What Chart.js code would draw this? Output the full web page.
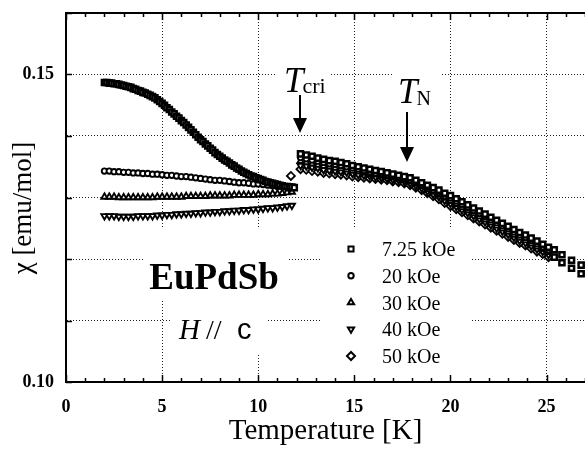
<!DOCTYPE html>
<html>
<head>
<meta charset="utf-8">
<script src="https://cdn.jsdelivr.net/npm/chart.js@4/dist/chart.umd.min.js"></script>
<style>
  html, body { margin: 0; padding: 0; background: #fff; }
  canvas { display: block; }
</style>
</head>
<body>
<canvas id="chi_plot" width="585" height="453"></canvas>
<script>
// Temperatures [K]
const tempLowFine = [2.000, 2.125, 2.250, 2.375, 2.500, 2.625, 2.750, 2.875, 3.000, 3.125,
  3.250, 3.375, 3.500, 3.625, 3.750, 3.875, 4.000, 4.125, 4.250, 4.375,
  4.500, 4.625, 4.750, 4.875, 5.000, 5.125, 5.250, 5.375, 5.500, 5.625,
  5.750, 5.875, 6.000, 6.125, 6.250, 6.375, 6.500, 6.625, 6.750, 6.875,
  7.000, 7.125, 7.250, 7.375, 7.500, 7.625, 7.750, 7.875, 8.000, 8.125,
  8.250, 8.375, 8.500, 8.625, 8.750, 8.875, 9.000, 9.125, 9.250, 9.375,
  9.500, 9.625, 9.750, 9.875, 10.000, 10.125, 10.250, 10.375, 10.500, 10.625,
  10.750, 10.875, 11.000, 11.125, 11.250, 11.375, 11.500, 11.625, 11.750, 11.875];
const tempLow = [2.00, 2.25, 2.50, 2.75, 3.00, 3.25, 3.50, 3.75, 4.00, 4.25,
  4.50, 4.75, 5.00, 5.25, 5.50, 5.75, 6.00, 6.25, 6.50, 6.75,
  7.00, 7.25, 7.50, 7.75, 8.00, 8.25, 8.50, 8.75, 9.00, 9.25,
  9.50, 9.75, 10.00, 10.25, 10.50, 10.75, 11.00, 11.25, 11.50, 11.75];
const tempHigh = [12.2, 12.5, 12.8, 13.1, 13.4, 13.7, 14.0, 14.3, 14.6, 14.9,
  15.2, 15.5, 15.8, 16.1, 16.4, 16.7, 17.0, 17.3, 17.6, 17.9,
  18.2, 18.5, 18.8, 19.1, 19.4, 19.7, 20.0, 20.3, 20.6, 20.9,
  21.2, 21.5, 21.8, 22.1, 22.4, 22.7, 23.0, 23.3, 23.6, 23.9,
  24.2, 24.5, 24.8, 25.1];
const tempTail = [25.4, 25.4, 25.8, 25.8, 26.3, 26.3, 26.8, 26.8];
const tempLone = [11.7];

// chi [emu/mol], 7.25 kOe
const chi725Low = [0.1487, 0.1487, 0.1486, 0.1486, 0.1485, 0.1485, 0.1484, 0.1483, 0.1482, 0.1481,
  0.1480, 0.1479, 0.1477, 0.1476, 0.1474, 0.1473, 0.1471, 0.1470, 0.1468, 0.1466,
  0.1464, 0.1462, 0.1459, 0.1456, 0.1453, 0.1450, 0.1446, 0.1443, 0.1439, 0.1436,
  0.1432, 0.1429, 0.1425, 0.1422, 0.1418, 0.1414, 0.1410, 0.1406, 0.1402, 0.1398,
  0.1394, 0.1391, 0.1387, 0.1384, 0.1380, 0.1377, 0.1373, 0.1370, 0.1367, 0.1364,
  0.1361, 0.1359, 0.1356, 0.1353, 0.1351, 0.1348, 0.1346, 0.1343, 0.1341, 0.1339,
  0.1337, 0.1335, 0.1334, 0.1332, 0.1331, 0.1329, 0.1328, 0.1326, 0.1325, 0.1324,
  0.1323, 0.1322, 0.1321, 0.1320, 0.1319, 0.1318, 0.1318, 0.1317, 0.1317, 0.1316];
const chi725High = [0.1371, 0.1369, 0.1367, 0.1364, 0.1362, 0.1360, 0.1359, 0.1357, 0.1355, 0.1352,
  0.1350, 0.1348, 0.1346, 0.1344, 0.1342, 0.1340, 0.1338, 0.1336, 0.1334, 0.1332,
  0.1328, 0.1324, 0.1320, 0.1316, 0.1312, 0.1307, 0.1303, 0.1298, 0.1293, 0.1288,
  0.1283, 0.1278, 0.1273, 0.1268, 0.1263, 0.1258, 0.1253, 0.1248, 0.1243, 0.1239,
  0.1234, 0.1229, 0.1224, 0.1219];
const chi725Tail = [0.1215, 0.1203, 0.1207, 0.1194, 0.1198, 0.1185, 0.1190, 0.1176];

// 20 kOe
const chi20Low = [0.1343, 0.1343, 0.1342, 0.1342, 0.1341, 0.1341, 0.1340, 0.1340, 0.1339, 0.1339,
  0.1338, 0.1338, 0.1337, 0.1336, 0.1336, 0.1335, 0.1334, 0.1334, 0.1333, 0.1332,
  0.1331, 0.1330, 0.1329, 0.1328, 0.1328, 0.1327, 0.1326, 0.1325, 0.1324, 0.1324,
  0.1323, 0.1322, 0.1322, 0.1321, 0.1320, 0.1319, 0.1318, 0.1318, 0.1317, 0.1316];
const chi20High = [0.1365, 0.1363, 0.1361, 0.1359, 0.1357, 0.1355, 0.1354, 0.1352, 0.1350, 0.1348,
  0.1346, 0.1344, 0.1342, 0.1340, 0.1339, 0.1337, 0.1335, 0.1333, 0.1331, 0.1329,
  0.1325, 0.1321, 0.1317, 0.1312, 0.1308, 0.1303, 0.1299, 0.1294, 0.1289, 0.1284,
  0.1279, 0.1274, 0.1269, 0.1264, 0.1259, 0.1254, 0.1249, 0.1244, 0.1239, 0.1235,
  0.1230, 0.1225, 0.1220, 0.1215];

// 30 kOe
const chi30Low = [0.1301, 0.1301, 0.1301, 0.1300, 0.1300, 0.1300, 0.1300, 0.1300, 0.1300, 0.1300,
  0.1300, 0.1301, 0.1301, 0.1301, 0.1301, 0.1301, 0.1301, 0.1302, 0.1302, 0.1302,
  0.1302, 0.1302, 0.1303, 0.1303, 0.1303, 0.1303, 0.1303, 0.1304, 0.1304, 0.1304,
  0.1304, 0.1304, 0.1305, 0.1305, 0.1305, 0.1306, 0.1306, 0.1307, 0.1308, 0.1309];
const chi30High = [0.1359, 0.1357, 0.1355, 0.1353, 0.1351, 0.1350, 0.1348, 0.1347, 0.1345, 0.1343,
  0.1342, 0.1340, 0.1338, 0.1337, 0.1335, 0.1334, 0.1332, 0.1330, 0.1328, 0.1326,
  0.1322, 0.1318, 0.1313, 0.1309, 0.1304, 0.1299, 0.1294, 0.1289, 0.1284, 0.1279,
  0.1274, 0.1269, 0.1264, 0.1259, 0.1254, 0.1249, 0.1244, 0.1239, 0.1234, 0.1230,
  0.1225, 0.1220, 0.1216, 0.1211];

// 40 kOe
const chi40Low = [0.1270, 0.1270, 0.1270, 0.1269, 0.1269, 0.1269, 0.1269, 0.1270, 0.1270, 0.1270,
  0.1270, 0.1271, 0.1271, 0.1272, 0.1272, 0.1273, 0.1273, 0.1274, 0.1274, 0.1275,
  0.1275, 0.1276, 0.1276, 0.1277, 0.1277, 0.1278, 0.1278, 0.1279, 0.1279, 0.1280,
  0.1280, 0.1281, 0.1281, 0.1282, 0.1283, 0.1283, 0.1284, 0.1285, 0.1286, 0.1287];
const chi40High = [0.1352, 0.1351, 0.1349, 0.1348, 0.1345, 0.1344, 0.1343, 0.1342, 0.1341, 0.1339,
  0.1337, 0.1336, 0.1335, 0.1333, 0.1332, 0.1331, 0.1329, 0.1328, 0.1326, 0.1323,
  0.1319, 0.1315, 0.1310, 0.1305, 0.1301, 0.1295, 0.1290, 0.1285, 0.1280, 0.1275,
  0.1270, 0.1265, 0.1260, 0.1255, 0.1250, 0.1245, 0.1240, 0.1235, 0.1230, 0.1226,
  0.1221, 0.1216, 0.1212, 0.1207];

// 50 kOe
const chi50Lone = [0.1335];
const chi50High = [0.1346, 0.1345, 0.1343, 0.1342, 0.1340, 0.1339, 0.1338, 0.1337, 0.1336, 0.1334,
  0.1333, 0.1332, 0.1331, 0.1330, 0.1329, 0.1328, 0.1326, 0.1325, 0.1323, 0.1320,
  0.1316, 0.1312, 0.1307, 0.1302, 0.1297, 0.1291, 0.1286, 0.1281, 0.1276, 0.1271,
  0.1266, 0.1261, 0.1256, 0.1251, 0.1246, 0.1241, 0.1236, 0.1231, 0.1226, 0.1222,
  0.1217, 0.1212, 0.1208, 0.1203];

const fieldLabels = ['7.25 kOe', '20 kOe', '30 kOe', '40 kOe', '50 kOe'];
const xTickValues = [0, 5, 10, 15, 20, 25];
const yTickLabels = ['0.10', '0.15'];
const transitionTemps = [12.17, 17.74];   // T_cri, T_N arrows

const SERIF = '"Liberation Serif", "Times New Roman", serif';
Chart.defaults.font.family = SERIF;
Chart.defaults.color = '#000';

function pts(xs, ys) {
  return xs.map((x, i) => ({ x: x, y: ys[i] }));
}

const markerStyles = [
  { pointStyle: 'rect', rotation: 0, radius: 3.6, border: 2.5 },
  { pointStyle: 'circle', rotation: 0, radius: 2.7, border: 1.9 },
  { pointStyle: 'triangle', rotation: 0, radius: 3.6, border: 1.9 },
  { pointStyle: 'triangle', rotation: 180, radius: 3.6, border: 1.9 },
  { pointStyle: 'rectRot', rotation: 0, radius: 4.0, border: 1.8 }
];

const seriesData = [
  [...pts(tempLowFine, chi725Low), ...pts(tempHigh, chi725High), ...pts(tempTail, chi725Tail)],
  [...pts(tempLow, chi20Low), ...pts(tempHigh, chi20High)],
  [...pts(tempLow, chi30Low), ...pts(tempHigh, chi30High)],
  [...pts(tempLow, chi40Low), ...pts(tempHigh, chi40High)],
  [...pts(tempLone, chi50Lone), ...pts(tempHigh, chi50High)]
];

const datasets = seriesData.map((data, i) => ({
  label: fieldLabels[i],
  data: data,
  pointStyle: markerStyles[i].pointStyle,
  pointRotation: markerStyles[i].rotation,
  pointRadius: markerStyles[i].radius,
  pointBorderWidth: markerStyles[i].border,
  pointBorderColor: '#000',
  pointBackgroundColor: '#fff',
  showLine: false
}));

function drawArrow(ctx, x, y0, y1) {
  ctx.beginPath();
  ctx.moveTo(x, y0);
  ctx.lineTo(x, y1 - 12);
  ctx.lineWidth = 2;
  ctx.stroke();
  ctx.beginPath();
  ctx.moveTo(x - 7, y1 - 15);
  ctx.lineTo(x + 7, y1 - 15);
  ctx.lineTo(x, y1);
  ctx.closePath();
  ctx.fill();
}

// labels, arrows and the key, drawn under the data
const notesPlugin = {
  id: 'notes',
  beforeDatasetsDraw(chart) {
    const { ctx, scales: { x } } = chart;
    ctx.save();

    // paper showing through the dotted grid behind the labels
    ctx.fillStyle = '#fff';
    [[277, 55, 53, 45], [392, 70, 48, 42], [143, 228, 144, 72],
     [170, 300, 98, 53], [322, 228, 148, 153]].forEach(b => ctx.fillRect(b[0], b[1], b[2], b[3]));

    ctx.fillStyle = '#000';
    ctx.strokeStyle = '#000';
    ctx.textBaseline = 'alphabetic';
    ctx.textAlign = 'left';

    // T_cri
    ctx.font = 'italic 35px ' + SERIF;
    ctx.fillText('T', 284, 92);
    let w = ctx.measureText('T').width;
    ctx.font = '22px ' + SERIF;
    ctx.fillText('cri', 284 + w - 1, 93);
    drawArrow(ctx, Math.round(x.getPixelForValue(transitionTemps[0])), 95, 133);

    // T_N
    ctx.font = 'italic 35px ' + SERIF;
    ctx.fillText('T', 398, 103);
    w = ctx.measureText('T').width;
    ctx.font = '20px ' + SERIF;
    ctx.fillText('N', 398 + w - 1, 105);
    drawArrow(ctx, Math.round(x.getPixelForValue(transitionTemps[1])), 112, 162);

    // compound and field direction
    ctx.textAlign = 'center';
    ctx.font = 'bold 37px ' + SERIF;
    ctx.fillText('EuPdSb', 214, 289);
    ctx.textAlign = 'left';
    ctx.font = 'italic 29px ' + SERIF;
    ctx.fillText('H', 179, 339);
    ctx.font = '28px ' + SERIF;
    ctx.fillText('//', 206, 339);
    ctx.font = '29px "Liberation Sans", Arial, sans-serif';
    ctx.fillText('c', 237, 339);

    // key
    ctx.font = '20px ' + SERIF;
    fieldLabels.forEach((label, i) => {
      const base = 256 + i * 26.75;
      const m = markerStyles[i];
      ctx.fillStyle = '#fff';
      ctx.strokeStyle = '#000';
      Chart.helpers.drawPoint(ctx, {
        pointStyle: m.pointStyle, rotation: m.rotation,
        radius: m.radius, borderWidth: 1.5
      }, 351, base - 7);
      ctx.fillStyle = '#000';
      ctx.fillText(label, 382, base);
    });

    // y axis title
    ctx.save();
    ctx.translate(24, 208);
    ctx.rotate(-Math.PI / 2);
    ctx.textAlign = 'center';
    ctx.textBaseline = 'middle';
    ctx.font = '27px ' + SERIF;
    ctx.fillText('\u03c7 [emu/mol]', 0, 0);
    ctx.restore();

    ctx.restore();
  },
  // inward tick marks on the frame
  afterDraw(chart) {
    const { ctx, chartArea: a, scales: { x, y } } = chart;
    ctx.save();
    ctx.strokeStyle = '#000';
    ctx.lineWidth = 1.5;
    ctx.beginPath();
    for (let t = 0; t <= 27; t++) {
      const px = Math.round(x.getPixelForValue(t)) + 0.5;
      const len = t % 5 === 0 ? 7 : 4;
      ctx.moveTo(px, a.bottom);
      ctx.lineTo(px, a.bottom - len);
      ctx.moveTo(px, a.top);
      ctx.lineTo(px, a.top + len);
    }
    for (let k = 0; k <= 6; k++) {
      const py = Math.round(y.getPixelForValue(0.10 + k * 0.01)) + 0.5;
      ctx.moveTo(a.left, py);
      ctx.lineTo(a.left + 6, py);
    }
    ctx.stroke();
    ctx.restore();
  }
};

// fixed axis sizes, no extra room for edge labels
function fitHeight(h) {
  return (s) => { s.height = h; s.paddingLeft = 0; s.paddingRight = 0; };
}

const canvasChi = document.getElementById('chi_plot');
const ctxChi = canvasChi.getContext('2d');

new Chart(ctxChi, {
  type: 'scatter',
  data: { datasets: datasets },
  options: {
    responsive: false,
    animation: false,
    events: [],
    layout: { autoPadding: false, padding: { top: 13, left: 0, right: 0, bottom: 0 } },
    plugins: {
      legend: { display: false },
      tooltip: { enabled: false }
    },
    scales: {
      x: {
        type: 'linear',
        position: 'bottom',
        min: 0,
        max: 27,
        afterFit: fitHeight(71),
        ticks: {
          stepSize: 5,
          includeBounds: false,
          padding: 15,
          maxRotation: 0,
          font: { size: 18, weight: 'bold' },
          callback: (v) => (xTickValues.includes(v) ? String(v) : '')
        },
        grid: { color: '#222', lineWidth: 1, drawTicks: false },
        border: { color: '#000', width: 2, dash: [1, 2] },
        title: {
          display: true,
          text: 'Temperature [K]',
          font: { size: 29 },
          padding: { top: 0, bottom: 4 }
        }
      },
      xTop: {
        type: 'linear',
        position: 'top',
        min: 0,
        max: 27,
        afterFit: fitHeight(0),
        ticks: { display: false },
        grid: { display: false, drawTicks: false },
        border: { color: '#000', width: 2 }
      },
      y: {
        type: 'linear',
        position: 'left',
        min: 0.10,
        max: 0.16,
        afterFit: (s) => { s.width = 66; s.paddingTop = 0; s.paddingBottom = 0; },
        ticks: {
          stepSize: 0.01,
          padding: 12,
          font: { size: 18, weight: 'bold' },
          callback: (v) => {
            const s = Number(v).toFixed(2);
            return yTickLabels.includes(s) ? s : '';
          }
        },
        grid: { color: '#222', lineWidth: 1, drawTicks: false },
        border: { color: '#000', width: 2, dash: [1, 2] }
      }
    }
  },
  plugins: [notesPlugin]
});
</script>
</body>
</html>
